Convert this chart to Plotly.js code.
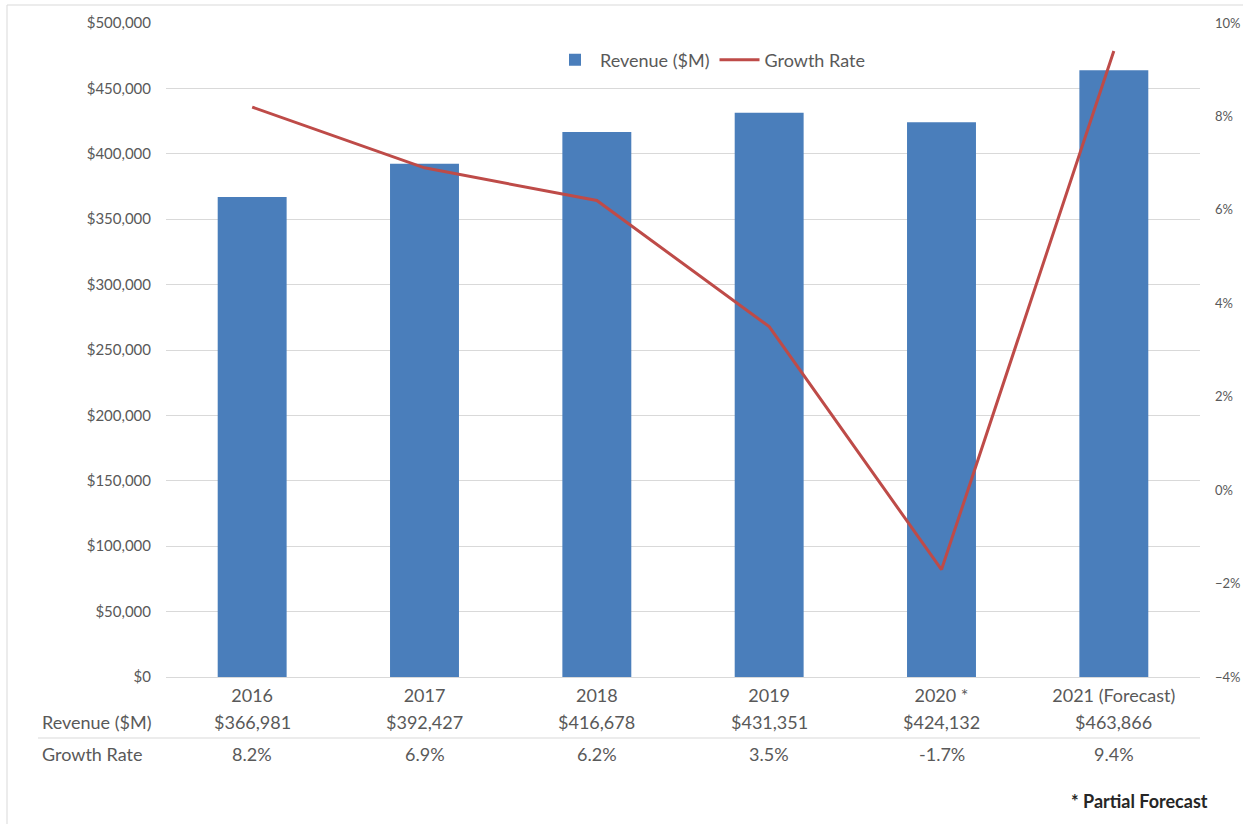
<!DOCTYPE html>
<html>
<head>
<meta charset="utf-8">
<script src="https://cdn.plot.ly/plotly-3.0.1.min.js"></script>
<style>html,body{margin:0;padding:0;background:#fff;}#chart{width:1243px;height:824px;}</style>
</head>
<body>
<div id="chart"></div>
<script>
const categories = ["2016", "2017", "2018", "2019", "2020 *", "2021 (Forecast)"];
const revenue = [366981, 392427, 416678, 431351, 424132, 463866];
const growthRate = [8.2, 6.9, 6.2, 3.5, -1.7, 9.4];
const rowLabels = ["Revenue ($M)", "Growth Rate"];
const footnote = "* Partial Forecast";

const FONT = "Lato, 'Noto Sans', sans-serif";
const GRAY = "#595959";

const L = 166, R = 1200, T = 23, B = 677, W = 1243, H = 824;
const pw = R - L, ph = B - T;
const px = v => (v - L) / pw;
const py = v => (B - v) / ph;

const idx = categories.map((c, i) => i);
const fmtMoney = v => "$" + v.toLocaleString("en-US");
const fmtPct = v => v.toFixed(1) + "%";

const traces = [
  {
    type: "bar", name: "Revenue ($M)", x: idx, y: revenue,
    marker: {color: "#4a7ebb"}, yaxis: "y"
  },
  {
    type: "scatter", mode: "lines", name: "Growth Rate", x: idx, y: growthRate,
    line: {color: "#be4b48", width: 3}, yaxis: "y2"
  }
];

const TBL = 18;
const annotations = [];
idx.forEach(i => {
  annotations.push({xref: "x", yref: "paper", x: i, y: py(722), text: fmtMoney(revenue[i]),
    showarrow: false, xanchor: "center", yanchor: "middle", font: {family: FONT, size: TBL, color: GRAY}});
  annotations.push({xref: "x", yref: "paper", x: i, y: py(754), text: fmtPct(growthRate[i]),
    showarrow: false, xanchor: "center", yanchor: "middle", font: {family: FONT, size: TBL, color: GRAY}});
});
annotations.push({xref: "paper", yref: "paper", x: px(40), y: py(722), text: rowLabels[0],
  showarrow: false, xanchor: "left", yanchor: "middle", font: {family: FONT, size: TBL, color: GRAY}});
annotations.push({xref: "paper", yref: "paper", x: px(40), y: py(754), text: rowLabels[1],
  showarrow: false, xanchor: "left", yanchor: "middle", font: {family: FONT, size: TBL, color: GRAY}});
annotations.push({xref: "paper", yref: "paper", x: px(1210), y: py(801), text: "<b>" + footnote + "</b>",
  showarrow: false, xanchor: "right", yanchor: "middle", font: {family: FONT, size: 18, color: "#262626"}});

const shapes = [
  {type: "line", xref: "paper", yref: "paper", x0: px(38), x1: px(1200), y0: py(738), y1: py(738),
    line: {color: "#d9d9d9", width: 1}},
  {type: "rect", xref: "paper", yref: "paper", x0: px(7), x1: px(1260), y0: py(840), y1: py(5),
    line: {color: "#d9d9d9", width: 1}, fillcolor: "rgba(0,0,0,0)"}
];

const layout = {
  width: W, height: H,
  margin: {l: L, r: W - R, t: T, b: H - B, pad: 0},
  paper_bgcolor: "#ffffff", plot_bgcolor: "#ffffff",
  font: {family: FONT, color: GRAY},
  bargap: 0.6,
  showlegend: true,
  legend: {orientation: "h", x: px(710), xanchor: "center", y: py(60), yanchor: "middle",
    font: {family: FONT, size: 18, color: GRAY}, bgcolor: "rgba(0,0,0,0)", itemwidth: 40},
  xaxis: {type: "linear", range: [-0.5, categories.length - 0.5], tickvals: idx, ticktext: categories,
    showgrid: false, showline: true, linecolor: "#d9d9d9", linewidth: 1,
    ticks: "", tickfont: {family: FONT, size: TBL, color: GRAY}, ticklabelstandoff: 2, zeroline: false},
  yaxis: {range: [0, 500000], dtick: 50000, tickprefix: "$", tickformat: ",d", showgrid: true,
    gridcolor: "#d9d9d9", gridwidth: 1, zeroline: false, showline: false, ticks: "",
    tickfont: {family: FONT, size: 15, color: GRAY}, ticklabelstandoff: 14},
  yaxis2: {range: [-4, 10], dtick: 2, ticksuffix: "%", overlaying: "y", side: "right", showgrid: false,
    zeroline: false, showline: false, ticks: "", tickfont: {family: FONT, size: 13, color: GRAY},
    ticklabelstandoff: 14},
  annotations: annotations,
  shapes: shapes
};

Plotly.newPlot("chart", traces, layout, {displayModeBar: false, staticPlot: true});
</script>
</body>
</html>
